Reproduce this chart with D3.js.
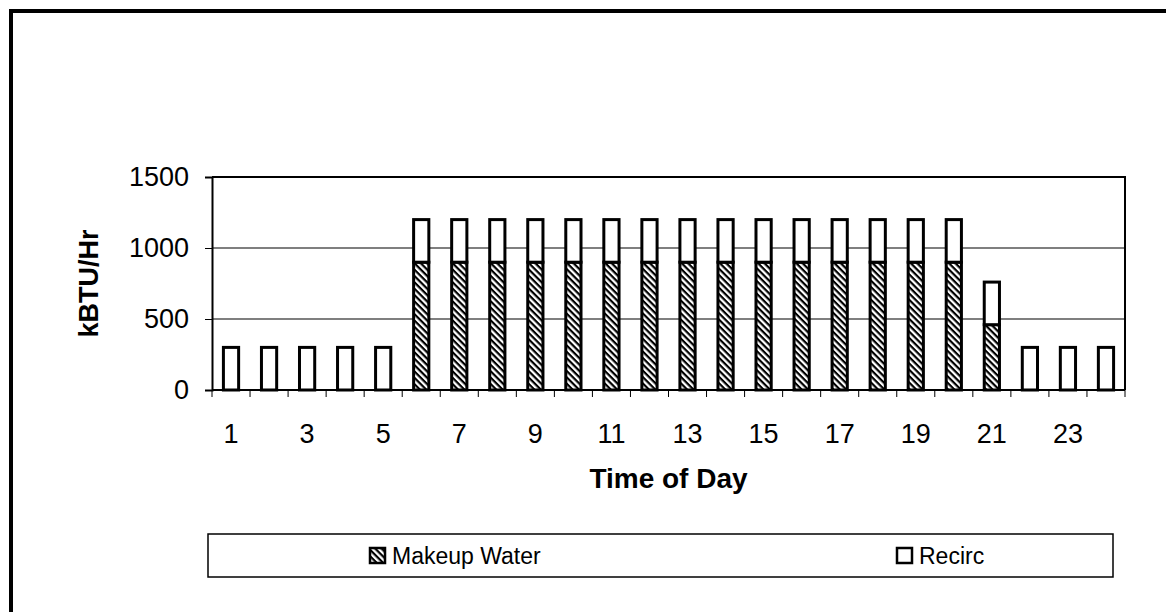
<!DOCTYPE html>
<html>
<head>
<meta charset="utf-8">
<script src="https://cdn.jsdelivr.net/npm/d3@7"></script>
<style>
  body { margin: 0; background: #fff; }
  svg text { font-family: "Liberation Sans", Arial, sans-serif; fill: #000; }
</style>
</head>
<body>
<svg id="chart"></svg>
<script>
const width = 1166, height = 612;

// données
const hours = d3.range(1, 25);
const makeupWater = [0, 0, 0, 0, 0, 900, 900, 900, 900, 900, 900, 900, 900, 900, 900, 900, 900, 900, 900, 900, 460, 0, 0, 0];
const recirc = [300, 300, 300, 300, 300, 300, 300, 300, 300, 300, 300, 300, 300, 300, 300, 300, 300, 300, 300, 300, 300, 300, 300, 300];
const yTicks = [0, 500, 1000, 1500];
const xLabels = [1, 3, 5, 7, 9, 11, 13, 15, 17, 19, 21, 23];

const plot = {left: 212, right: 1125, top: 177, bottom: 390};

const svg = d3.select("#chart")
    .attr("width", width)
    .attr("height", height);

// motif hachuré pour Makeup Water (lignes \\\)
const defs = svg.append("defs");
defs.append("pattern")
    .attr("id", "hatch")
    .attr("patternUnits", "userSpaceOnUse")
    .attr("width", 4.5).attr("height", 4.5)
    .attr("patternTransform", "rotate(45)")
    .call(p => {
        p.append("rect").attr("width", 4.5).attr("height", 4.5).attr("fill", "#fff");
        p.append("rect").attr("width", 4.5).attr("height", 2.2).attr("fill", "#000");
    });

// cadre extérieur
svg.append("path")
    .attr("d", `M11,${height + 5} L11,11 L${width + 5},11`)
    .attr("fill", "none")
    .attr("stroke", "#000")
    .attr("stroke-width", 4);

const x = d3.scaleBand()
    .domain(hours)
    .range([plot.left, plot.right])
    .paddingInner(0.6)
    .paddingOuter(0.3);

const y = d3.scaleLinear()
    .domain([0, 1500])
    .range([plot.bottom, plot.top]);

// grille
svg.append("g")
    .selectAll("line")
    .data(yTicks.filter(d => d > 0 && d < 1500))
    .enter().append("line")
    .attr("x1", plot.left).attr("x2", plot.right)
    .attr("y1", d => y(d)).attr("y2", d => y(d))
    .attr("stroke", "#000")
    .attr("stroke-width", 1.2);

// bord haut et droit de la zone de tracé
svg.append("path")
    .attr("d", `M${plot.left},${plot.top} L${plot.right},${plot.top} L${plot.right},${plot.bottom}`)
    .attr("fill", "none")
    .attr("stroke", "#000")
    .attr("stroke-width", 2);

// barres empilées
const stack = d3.stack().keys(["makeup", "recirc"]);
const rows = hours.map((h, i) => ({hour: h, makeup: makeupWater[i], recirc: recirc[i]}));
const series = stack(rows);

svg.append("g")
    .selectAll("g")
    .data(series)
    .enter().append("g")
    .attr("fill", d => d.key === "makeup" ? "url(#hatch)" : "#fff")
    .selectAll("rect")
    .data(d => d.filter(s => s[1] - s[0] > 0))
    .enter().append("rect")
    .attr("x", d => x(d.data.hour))
    .attr("width", x.bandwidth())
    .attr("y", d => y(d[1]))
    .attr("height", d => y(d[0]) - y(d[1]))
    .attr("stroke", "#000")
    .attr("stroke-width", 3);

// axe Y
const yAxis = svg.append("g")
    .attr("transform", `translate(${plot.left},0)`)
    .call(d3.axisLeft(y).tickValues(yTicks).tickFormat(d3.format("d")).tickSize(7).tickPadding(16));
yAxis.select(".domain").attr("stroke-width", 2);
yAxis.selectAll("text").style("font-size", "27px");

// axe X : graduations aux limites des catégories
const xAxisG = svg.append("g");
xAxisG.append("line")
    .attr("x1", plot.left).attr("x2", plot.right)
    .attr("y1", plot.bottom).attr("y2", plot.bottom)
    .attr("stroke", "#000").attr("stroke-width", 2);
const bounds = hours.map(h => x(h) - x.step() * x.paddingInner() / 2).concat([plot.right]);
bounds[0] = plot.left;
xAxisG.selectAll(".tick")
    .data(bounds)
    .enter().append("line")
    .attr("x1", d => d).attr("x2", d => d)
    .attr("y1", plot.bottom).attr("y2", plot.bottom + 7)
    .attr("stroke", "#000");
xAxisG.selectAll(".xlab")
    .data(xLabels)
    .enter().append("text")
    .attr("x", d => x(d) + x.bandwidth() / 2)
    .attr("y", 443)
    .attr("text-anchor", "middle")
    .style("font-size", "27px")
    .text(d => d);

// titres des axes
svg.append("text")
    .attr("x", (plot.left + plot.right) / 2)
    .attr("y", 488)
    .attr("text-anchor", "middle")
    .style("font-size", "28px")
    .style("font-weight", "bold")
    .text("Time of Day");

svg.append("text")
    .attr("transform", `translate(98,${(plot.top + plot.bottom) / 2}) rotate(-90)`)
    .attr("text-anchor", "middle")
    .style("font-size", "27px")
    .style("font-weight", "bold")
    .text("kBTU/Hr");

// légende
const legend = svg.append("g");
legend.append("rect")
    .attr("x", 208).attr("y", 534)
    .attr("width", 1113 - 208).attr("height", 43)
    .attr("fill", "#fff")
    .attr("stroke", "#000")
    .attr("stroke-width", 1.5);

const legendItems = [
    {name: "Makeup Water", fill: "url(#hatch)", x: 370},
    {name: "Recirc", fill: "#fff", x: 897}
];
legend.selectAll(".item")
    .data(legendItems)
    .enter().append("g")
    .each(function(d) {
        const g = d3.select(this);
        g.append("rect")
            .attr("x", d.x).attr("y", 548)
            .attr("width", 15).attr("height", 15)
            .attr("fill", d.fill)
            .attr("stroke", "#000")
            .attr("stroke-width", 2.5);
        g.append("text")
            .attr("x", d.x + 22)
            .attr("y", 564)
            .style("font-size", "23px")
            .text(d.name);
    });
</script>
</body>
</html>
